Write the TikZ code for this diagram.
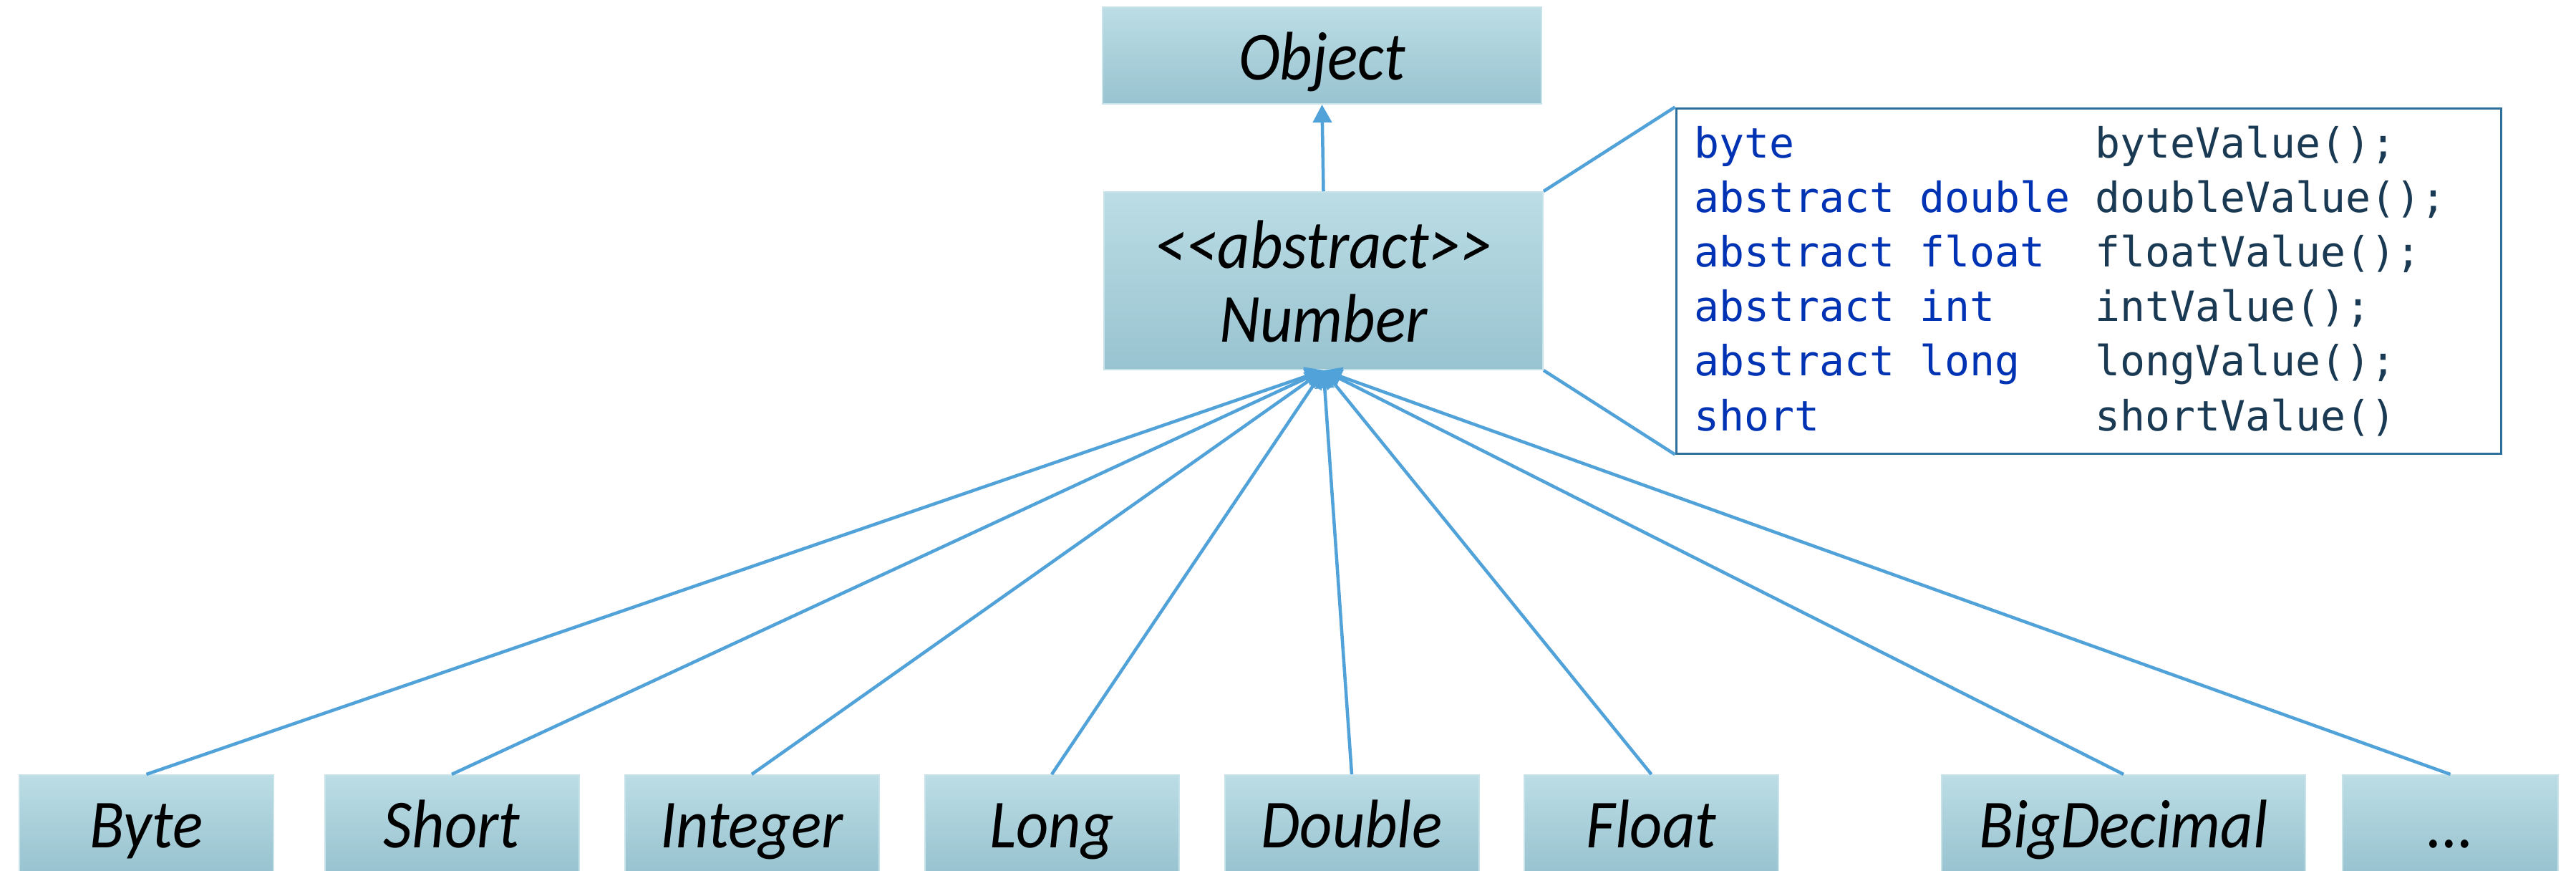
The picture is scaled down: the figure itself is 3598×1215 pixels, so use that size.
\documentclass[tikz,border=0pt]{standalone}
\usepackage{fontspec}
\setmainfont{Carlito}
\newfontfamily\lblfont[FakeStretch=0.92]{Carlito}
\newfontfamily\codefont{DejaVu Sans Mono}
\usetikzlibrary{arrows.meta}
\definecolor{linec}{RGB}{80,162,216}
\definecolor{boxtop}{RGB}{188,221,229}
\definecolor{boxbot}{RGB}{152,195,208}
\definecolor{boxedge}{RGB}{200,226,233}
\definecolor{codeframe}{RGB}{46,112,155}
\definecolor{kw}{RGB}{0,50,180}
\definecolor{meth}{RGB}{26,58,84}
\begin{document}
\begin{tikzpicture}[x=0.2pt,y=-0.2pt,
  clsbox/.style={rectangle, top color=boxtop, bottom color=boxbot, draw=boxedge,
    line width=0.4pt, inner sep=0pt, minimum height=27pt,
    font=\lblfont\fontsize{19.2}{20.6}\selectfont\itshape, text height=14pt, text depth=0.6pt},
  lbl/.style={inner sep=0pt, anchor=base, font=\lblfont\fontsize{19.2}{20.6}\selectfont\itshape},
  inh/.style={draw=linec, line width=0.9pt, -{Triangle[length=5pt,width=5.2pt]}},
  callout/.style={draw=linec, line width=0.9pt},
  codebox/.style={rectangle, draw=codeframe, line width=0.6pt, fill=white,
    minimum width=230.4pt, minimum height=96.4pt, inner sep=0pt},
  kwtxt/.style={inner sep=0pt, anchor=base west, text=kw, font=\fontsize{11.63}{15}\codefont},
  mtxt/.style={inner sep=0pt, anchor=base west, text=meth, font=\fontsize{11.63}{15}\codefont}]
\useasboundingbox (0,0) rectangle (3598,1215);

% class boxes
\node[clsbox, minimum width=122.6pt] (obj) at (1846.5,77.5) {Object};
\node[clsbox, minimum width=122.6pt, minimum height=49.6pt] (num) at (1848.5,392) {};
\node[lbl] (numA) at (1848.5,374) {<{}<abstract>{}>};
\node[lbl] (numB) at (1848.5,477) {Number};

\node[clsbox, minimum width=71pt] (byte) at (204.5,1149.5) {Byte};
\node[clsbox, minimum width=71pt] (short) at (631,1149.5) {Short};
\node[clsbox, minimum width=71pt] (integer) at (1050,1149.5) {Integer};
\node[clsbox, minimum width=71pt] (long) at (1469,1149.5) {Long};
\node[clsbox, minimum width=71pt] (double) at (1888,1149.5) {Double};
\node[clsbox, minimum width=71pt] (float) at (2306.5,1149.5) {Float};
\node[clsbox, minimum width=101.6pt] (bigdec) at (2966,1149.5) {BigDecimal};
\node[clsbox, minimum width=60.2pt] (more) at (3422.5,1149.5) {...};

% code note
\node[codebox] (code) at (2917,392) {};
\node[kwtxt] (c1a) at (2365,220) {byte};
\node[mtxt]  (c1b) at (2925,220) {byteValue();};
\node[kwtxt] (c2a) at (2365,296.2) {abstract double};
\node[mtxt]  (c2b) at (2925,296.2) {doubleValue();};
\node[kwtxt] (c3a) at (2365,372.4) {abstract float};
\node[mtxt]  (c3b) at (2925,372.4) {floatValue();};
\node[kwtxt] (c4a) at (2365,448.6) {abstract int};
\node[mtxt]  (c4b) at (2925,448.6) {intValue();};
\node[kwtxt] (c5a) at (2365,524.8) {abstract long};
\node[mtxt]  (c5b) at (2925,524.8) {longValue();};
\node[kwtxt] (c6a) at (2365,601) {short};
\node[mtxt]  (c6b) at (2925,601) {shortValue()};

\draw[callout] (num.north east) -- (code.north west);
\draw[callout] (num.south east) -- (code.south west);

% inheritance
\draw[inh] (num.north) -- (obj.south);
\foreach \c in {byte,short,integer,long,double,float,bigdec,more}
  \draw[inh] (\c.north) -- (num.south);
\end{tikzpicture}
\end{document}
